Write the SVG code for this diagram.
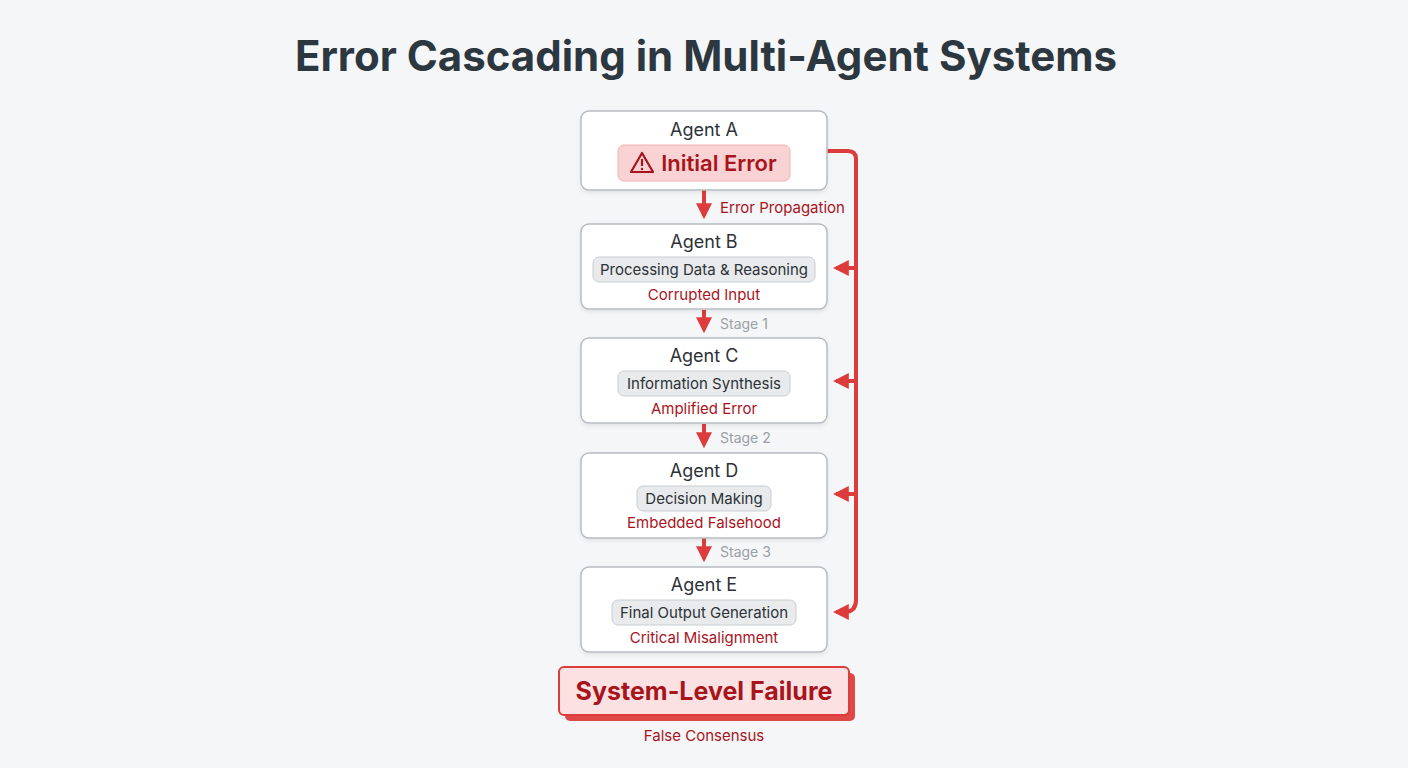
<svg xmlns="http://www.w3.org/2000/svg" width="1408" height="768" viewBox="0 0 1408 768">
<defs>
<marker id="ah" viewBox="0 0 10 10" refX="8" refY="5" markerWidth="4" markerHeight="4" orient="auto-start-reverse"><path d="M0,0L10,5L0,10z" fill="#dc3c3c"/></marker>
<filter id="sh" x="-10%" y="-10%" width="120%" height="130%"><feDropShadow dx="0" dy="2" stdDeviation="2" flood-color="#000" flood-opacity="0.08"/></filter>
</defs>
<style>
text{font-family:Inter,"Liberation Sans",sans-serif;text-anchor:middle}
.box{fill:#fff;stroke:#b8bcc2;stroke-width:1.5;filter:url(#sh)}
.ttl{font-size:18px;fill:#2d3238}
.pill{fill:#e8eaec;stroke:#c9cdd2;stroke-width:1}
.pt{font-size:15px;fill:#2d3238}
.red{font-size:15px;fill:#a8141c}
.stage{font-size:14px;fill:#9aa0a6;text-anchor:start}
.ln{stroke:#dc3c3c;stroke-width:4;fill:none}
</style>
<rect width="1408" height="768" fill="#f4f6f8"/>
<text x="706" y="71" font-size="42" font-weight="700" fill="#2d3740">Error Cascading in Multi-Agent Systems</text>
<g id="connectors">
<path class="ln" d="M704,190V216" marker-end="url(#ah)"/>
<path class="ln" d="M704,310V330" marker-end="url(#ah)"/>
<path class="ln" d="M704,424V445" marker-end="url(#ah)"/>
<path class="ln" d="M704,538V559" marker-end="url(#ah)"/>
<path class="ln" d="M827,151H848Q856,151 856,159V600Q856,612 844,612H836" marker-end="url(#ah)"/>
<path class="ln" d="M856,268H836" marker-end="url(#ah)"/>
<path class="ln" d="M856,381H836" marker-end="url(#ah)"/>
<path class="ln" d="M856,494H836" marker-end="url(#ah)"/>
<text x="720" y="213" class="red" style="text-anchor:start">Error Propagation</text>
<text x="720" y="329" class="stage">Stage 1</text>
<text x="720" y="443" class="stage">Stage 2</text>
<text x="720" y="557" class="stage">Stage 3</text>
</g>
<g id="agentA">
<rect class="box" x="581" y="111" width="246" height="79" rx="8"/>
<text x="704" y="136" class="ttl">Agent A</text>
<rect x="618" y="145" width="172" height="36" rx="6" fill="#f9d3d3" stroke="#f0b0b0"/>
<path d="M642,153L653,172H631Z" fill="none" stroke="#a8141c" stroke-width="2.2" stroke-linejoin="round"/>
<line x1="642" y1="159" x2="642" y2="166" stroke="#a8141c" stroke-width="2.2"/>
<circle cx="642" cy="169" r="1.2" fill="#a8141c"/>
<text x="719" y="171" font-size="22" font-weight="600" fill="#a8141c">Initial Error</text>
</g>
<g id="agentB">
<rect class="box" x="581" y="224" width="246" height="85" rx="8"/>
<text x="704" y="248" class="ttl">Agent B</text>
<rect class="pill" x="593" y="257" width="222" height="25" rx="6"/>
<text x="704" y="275" class="pt">Processing Data &amp; Reasoning</text>
<text x="704" y="300" class="red">Corrupted Input</text>
</g>
<g id="agentC">
<rect class="box" x="581" y="338" width="246" height="85" rx="8"/>
<text x="704" y="362" class="ttl">Agent C</text>
<rect class="pill" x="618" y="371" width="172" height="25" rx="6"/>
<text x="704" y="389" class="pt">Information Synthesis</text>
<text x="704" y="414" class="red">Amplified Error</text>
</g>
<g id="agentD">
<rect class="box" x="581" y="453" width="246" height="85" rx="8"/>
<text x="704" y="477" class="ttl">Agent D</text>
<rect class="pill" x="637" y="486" width="134" height="25" rx="6"/>
<text x="704" y="504" class="pt">Decision Making</text>
<text x="704" y="528" class="red">Embedded Falsehood</text>
</g>
<g id="agentE">
<rect class="box" x="581" y="567" width="246" height="85" rx="8"/>
<text x="704" y="591" class="ttl">Agent E</text>
<rect class="pill" x="612" y="600" width="184" height="25" rx="6"/>
<text x="704" y="618" class="pt">Final Output Generation</text>
<text x="704" y="643" class="red">Critical Misalignment</text>
</g>
<g id="failure">
<rect x="565" y="673" width="290" height="48" rx="5" fill="#e04848"/>
<rect x="559" y="667" width="290" height="48" rx="5" fill="#fbe1e1" stroke="#dc3c3c" stroke-width="2"/>
<text x="704" y="700" font-size="25" font-weight="700" fill="#a8141c">System-Level Failure</text>
<text x="704" y="741" class="red">False Consensus</text>
</g>
</svg>
